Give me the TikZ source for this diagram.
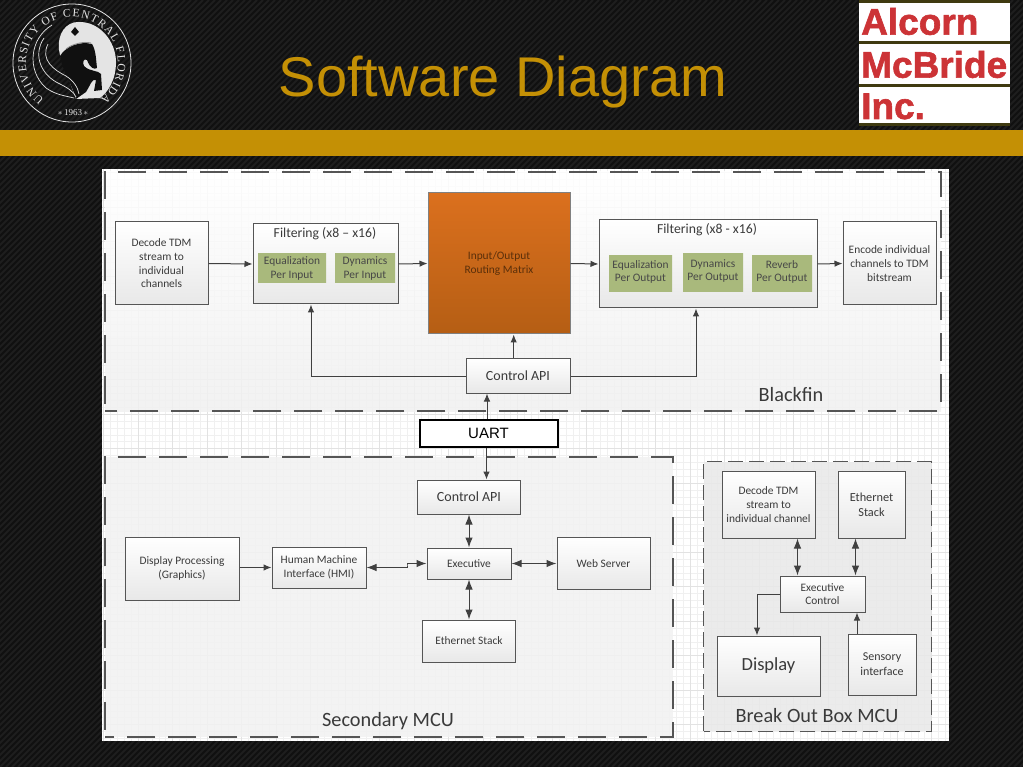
\documentclass[tikz,border=0pt]{standalone}
\usepackage{fontspec}
\setmainfont{Carlito}
\newfontfamily\headfont{Liberation Sans}
\newfontfamily\logofont[FakeBold=1.6]{Liberation Sans Bold}
\newfontfamily\sealfont{Liberation Serif}
\usetikzlibrary{arrows.meta,decorations.text,positioning}
\definecolor{ink}{HTML}{3A3A3A}
\definecolor{wire}{HTML}{404040}
\definecolor{edge}{HTML}{555555}
\definecolor{gold}{HTML}{C49005}
\definecolor{night}{HTML}{101010}
\definecolor{stripe}{HTML}{1E1E1E}
\definecolor{olive}{HTML}{3F3A10}
\definecolor{logored}{HTML}{CC3336}
\definecolor{sage}{HTML}{A9B97C}
\definecolor{gridminor}{HTML}{F0F0F0}
\definecolor{gridmajor}{HTML}{E2E2E2}
\definecolor{seal}{HTML}{E4E4E4}
\definecolor{routetop}{HTML}{DB701E}
\definecolor{routelow}{HTML}{B55E14}
\definecolor{routeink}{HTML}{5A2F0A}
\tikzset{
  basebox/.style={draw=edge,line width=1pt,top color=white,bottom color=black!9,align=center,text=ink,inner sep=0pt,
    font=\fontsize{11.4}{13.7}\selectfont},
  greenbox/.style={basebox,draw=none,top color=sage,bottom color=sage,text=black!72},
  routebox/.style={basebox,draw=black!50,top color=routetop,bottom color=routelow,text=routeink},
  panel/.style={draw=none,inner sep=0pt,fill opacity=0.85},
  frame/.style={draw=edge,line width=1.5pt,dash pattern=on 28pt off 13pt,dash phase=34pt},
  smallframe/.style={frame,line width=1.1pt,dash pattern=on 15pt off 6pt,dash phase=0pt},
  title/.style={text=ink,inner sep=0pt,font=\fontsize{20.3}{22}\selectfont},
  filttitle/.style={text=ink,inner sep=0pt,font=\fontsize{13.7}{15}\selectfont},
  arrow/.style={-{Latex[length=8pt,width=6.5pt]},line width=1pt,draw=wire},
  biarrow/.style={{Latex[length=10pt,width=7.5pt]}-{Latex[length=10pt,width=7.5pt]},line width=1pt,draw=wire},
  logotext/.style={anchor=base west,inner sep=0pt,text=logored,font=\logofont\fontsize{37}{40}\selectfont}
}
\begin{document}
\begin{tikzpicture}[x=1pt,y=-1pt]
  \useasboundingbox (0,0) rectangle (1023,767);
  % slide background
  \fill[night] (0,0) rectangle (1023,767);
  \begin{scope}
    \clip (0,0) rectangle (1023,767);
    \foreach \i in {-780,-774,...,1023}
      \draw[stripe,line width=2pt] (\i,767) -- ++(767,-767);
  \end{scope}
  \fill[gold] (0,130) rectangle (1023,156);
  \node[inner sep=0pt,text=gold,anchor=base,font=\headfont\fontsize{56}{60}\selectfont] (heading) at (503,97) {Software Diagram};

  % university seal
  \draw[seal,line width=0.8pt] (72,63) circle[radius=59pt];
  \begin{scope}[shift={(72,63)},y=1pt]
    \path[decorate,decoration={text along path,text color=seal,text align={fit to path},
      text={|\sealfont\fontsize{11.5}{12}\selectfont|UNIVERSITY OF CENTRAL FLORIDA}}]
      (233:46pt) arc[start angle=233,end angle=-52,radius=46pt];
  \end{scope}
  \node[inner sep=0pt,text=seal,font=\sealfont\fontsize{9}{9}\selectfont] (sealyear) at (73,113) {$\ast$\,1963\,$\ast$};
  \fill[seal] (59,50) .. controls (57,34) and (66,22) .. (78,22) .. controls (100,21) and (116,42) .. (116,62)
    .. controls (116,80) and (108,92) .. (100,98) -- (76,99) -- (60,55) -- cycle;
  % horse and swirls
  \fill[night] (60,56) .. controls (66,46) and (80,41) .. (92,44) .. controls (96,50) and (96,60) .. (97,68)
    .. controls (94,70) and (90,68) .. (87,60) .. controls (84,58) and (82,62) .. (84,66)
    .. controls (90,72) and (98,70) .. (101,74) -- (102,90) -- (94,91) -- (96,80)
    .. controls (92,78) and (90,86) .. (86,92) -- (76,99) .. controls (72,84) and (62,70) .. (60,56) -- cycle;
  \fill[night] (75,27) -- (79,32) -- (75,36) -- (71,32) -- cycle;
  \draw[black!45,line width=0.8pt] (66,49) .. controls (72,44) and (84,41) .. (91,43);
  \draw[seal,line width=0.7pt] (52,25) .. controls (30,38) and (26,70) .. (46,88) .. controls (56,95) and (66,96) .. (74,98);
  \draw[seal,line width=0.7pt] (44,38) .. controls (32,56) and (42,76) .. (60,84) .. controls (68,88) and (74,92) .. (76,97);
  \draw[seal,line width=0.7pt] (48,44) .. controls (40,60) and (54,70) .. (66,76) .. controls (74,81) and (78,88) .. (79,94);

  % company logo
  \fill[white] (859,0) rectangle (1010,125);
  \foreach \i in {0,41,84,123}
    \fill[olive] (859,\i) rectangle (1010,\i+3);
  \node[logotext] (alcorn) at (861,34.7) {Alcorn};
  \node[logotext] (mcbride) at (861,77.7) {McBride};
  \node[logotext] (inc) at (861,119) {Inc.};

  % drawing sheet
  \fill[white] (102,169) rectangle (949,741);
  \draw[gridminor,line width=0.4pt,step=6.9pt] (102,169) grid (949,741);
  \draw[gridmajor,line width=0.5pt,step=34.5pt] (102,169) grid (949,741);
  \node[panel,minimum width=836pt,minimum height=239pt,top color=white,bottom color=black!6] (bfpanel) at (523,291.5) {};
  \node[panel,minimum width=568pt,minimum height=280pt,fill=black!5] (secpanel) at (389,597) {};
  \node[panel,minimum width=227pt,minimum height=269pt,fill=black!9] (bobpanel) at (817.5,596.5) {};
  \draw[frame] (bfpanel.south west) rectangle (bfpanel.north east);
  \draw[frame] (secpanel.south west) rectangle (secpanel.north east);
  \draw[smallframe] (bobpanel.south west) rectangle (bobpanel.north east);

  % Blackfin
  \node[basebox,minimum width=93pt,minimum height=83pt] (decin) at (161.5,263.5) {Decode TDM\\stream to\\individual\\channels};
  \node[basebox,minimum width=145pt,minimum height=80pt] (filtin) at (325.5,264) {};
  \node[filttitle] (filtintitle) at (325,234) {Filtering (x8 – x16)};
  \node[greenbox,minimum width=68pt,minimum height=29pt] (eqin) at (292,268.5) {Equalization\\Per Input};
  \node[greenbox,minimum width=60pt,minimum height=29pt,right=8pt of eqin] (dynin) {Dynamics\\Per Input};
  \node[routebox,minimum width=142pt,minimum height=141pt] (router) at (499,263.5) {Input/Output\\Routing Matrix};
  \node[basebox,minimum width=104pt,minimum height=34pt,font=\fontsize{14}{16}\selectfont] (ctla) at (518,376) {Control API};
  \node[basebox,minimum width=218pt,minimum height=88pt] (filtout) at (708,264) {};
  \node[filttitle] (filtouttitle) at (707,230) {Filtering (x8 - x16)};
  \node[greenbox,minimum width=63pt,minimum height=36pt] (eqout) at (640.5,274) {Equalization\\Per Output\\[-8pt]};
  \node[greenbox,minimum width=60pt,minimum height=38pt] (dynout) at (713,273) {Dynamics\\Per Output\\[-8pt]};
  \node[greenbox,minimum width=60pt,minimum height=36pt] (revout) at (782,274) {Reverb\\Per Output\\[-8pt]};
  \node[basebox,minimum width=93pt,minimum height=83pt] (encout) at (889.5,263.5) {Encode individual\\channels to TDM\\bitstream};
  \node[title] (bflabel) at (791,395) {Blackfin};

  \node[draw=black,line width=2pt,fill=white,minimum width=138pt,minimum height=27pt,inner sep=0pt,font=\headfont\fontsize{15}{17}\selectfont] (uart) at (488.5,433) {UART};

  % Secondary MCU
  \node[basebox,minimum width=103pt,minimum height=34pt,font=\fontsize{14}{16}\selectfont] (ctlb) at (469,497) {Control API};
  \node[basebox,minimum width=114pt,minimum height=63pt] (dispproc) at (182,568.5) {Display Processing\\(Graphics)};
  \node[basebox,minimum width=94pt,minimum height=41pt] (hmi) at (319,567.5) {Human Machine\\Interface (HMI)};
  \node[basebox,minimum width=84pt,minimum height=31pt] (exec) at (469,563.5) {Executive};
  \node[basebox,minimum width=93pt,minimum height=52pt] (websrv) at (603.5,563.5) {Web Server};
  \node[basebox,minimum width=93pt,minimum height=42pt] (ethb) at (469,641) {Ethernet Stack};
  \node[title] (seclabel) at (388,721) {Secondary MCU};
  \coordinate (hmijog) at (407,565);

  % Break Out Box MCU
  \node[basebox,minimum width=93pt,minimum height=67pt] (decbox) at (768.5,504.5) {Decode TDM\\stream to\\individual channel};
  \node[basebox,minimum width=67pt,minimum height=67pt,font=\fontsize{12.3}{15}\selectfont] (ethbox) at (871.5,504.5) {Ethernet\\Stack};
  \node[basebox,minimum width=85pt,minimum height=36pt] (execbox) at (822.5,594) {Executive\\Control};
  \node[basebox,minimum width=103pt,minimum height=60pt,font=\fontsize{18.5}{20}\selectfont] (disp) at (768.5,666) {Display};
  \node[basebox,minimum width=68pt,minimum height=61pt,font=\fontsize{12}{15}\selectfont] (sens) at (882,664.5) {Sensory\\interface};
  \node[title] (boblabel) at (817,716) {Break Out Box MCU};

  % connectors
  \draw[arrow] (decin.east) -- (filtin.west);
  \draw[arrow] (filtin.east) -- (router.west);
  \draw[arrow] (router.east) -- (filtout.west);
  \draw[arrow] (filtout.east) -- (encout.west);
  \draw[arrow] (ctla.west) -| ([xshift=-14.5pt]filtin.south);
  \draw[arrow] ([xshift=-4.3pt]ctla.north) -- ([xshift=14.7pt]router.south);
  \draw[arrow] (ctla.east) -| ([xshift=-12pt]filtout.south);
  \draw[arrow] ([xshift=-1.5pt]uart.north) -- ([xshift=-31pt]ctla.south);
  \draw[arrow] ([xshift=-2pt]uart.south) -- ([xshift=17.5pt]ctlb.north);
  \draw[biarrow] (ctlb.south) -- (exec.north);
  \draw[biarrow] (exec.south) -- (ethb.north);
  \draw[biarrow] (exec.east) -- (websrv.west);
  \draw[arrow] (dispproc.east |- hmi.west) -- (hmi.west);
  \draw[biarrow] (hmi.east) -| (hmijog) |- (exec.west);
  \draw[biarrow] ([xshift=29pt]decbox.south) -- ([xshift=-25pt]execbox.north);
  \draw[biarrow] ([xshift=-16pt]ethbox.south) -- ([xshift=33pt]execbox.north);
  \draw[arrow] (execbox.west) -| ([xshift=-11.5pt]disp.north);
  \draw[arrow] ([xshift=-25pt]sens.north) -- ([xshift=34.5pt]execbox.south);
\end{tikzpicture}
\end{document}
